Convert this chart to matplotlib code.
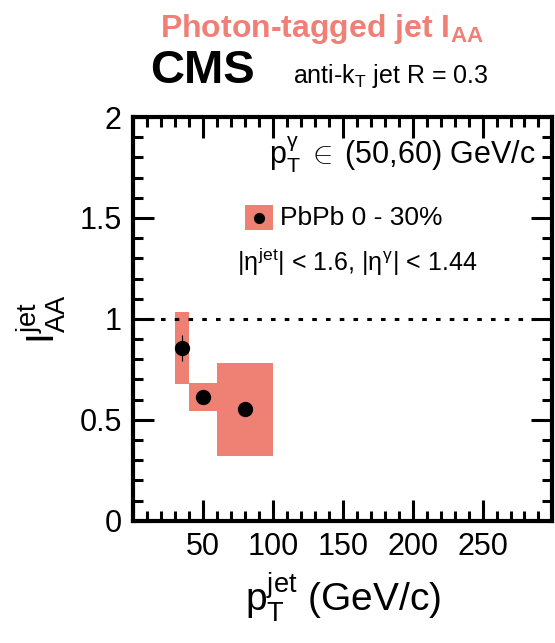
import matplotlib
matplotlib.use('Agg')
import matplotlib.pyplot as plt
from matplotlib.patches import Rectangle
from matplotlib.ticker import MultipleLocator, FixedLocator

plt.rcParams['font.family'] = ['Liberation Sans', 'DejaVu Sans']
plt.rcParams['mathtext.fontset'] = 'custom'
plt.rcParams['mathtext.rm'] = 'Liberation Sans'
plt.rcParams['mathtext.it'] = 'Liberation Sans'
plt.rcParams['mathtext.bf'] = 'Liberation Sans:bold'

# ---- data ----
bin_lo = [30, 40, 60]
bin_hi = [40, 60, 100]
x_pts = [35, 50, 80]
iaa = [0.856, 0.615, 0.553]
stat = [0.065, 0.02, 0.03]
sys_lo = [0.678, 0.545, 0.322]
sys_hi = [1.035, 0.683, 0.784]

x_ticks = [50, 100, 150, 200, 250]
y_ticks = [0, 0.5, 1, 1.5, 2]
y_tick_labels = ['0', '0.5', '1', '1.5', '2']

box_color = '#EE8074'
title_color = '#F08076'

fig = plt.figure(figsize=(5.55, 6.43), dpi=100)
ax = fig.add_axes([0.2396, 0.190, 0.7558, 0.628])

for lo, hi, slo, shi in zip(bin_lo, bin_hi, sys_lo, sys_hi):
    ax.add_patch(Rectangle((lo, slo), hi - lo, shi - slo, facecolor=box_color,
                           edgecolor='none', zorder=2))

ax.errorbar(x_pts, iaa, yerr=stat, fmt='o', color='black', markersize=10,
            elinewidth=0.8, capsize=0, zorder=4)

ax.axhline(1.0, color='black', linestyle=(0, (1.5, 3)), linewidth=2.2, zorder=3)

ax.set_xlim(0, 300)
ax.set_ylim(0, 2)

ax.xaxis.set_major_locator(FixedLocator([0] + x_ticks + [300]))
ax.set_xticklabels([''] + [str(t) for t in x_ticks] + [''])
ax.xaxis.set_minor_locator(MultipleLocator(10))
ax.yaxis.set_major_locator(FixedLocator(y_ticks))
ax.set_yticklabels(y_tick_labels)
ax.yaxis.set_minor_locator(MultipleLocator(0.1))

ax.tick_params(which='both', direction='in', top=True, right=True, width=2.2,
               labelsize=22, pad=8)
ax.tick_params(which='major', length=15)
ax.tick_params(which='minor', length=7)
for sp in ax.spines.values():
    sp.set_linewidth(3)

ax.set_xlabel(r'p$_\mathregular{T}^\mathregular{jet}$ (GeV/c)', fontsize=28, labelpad=6)
ax.set_ylabel(r'I$_\mathregular{AA}^\mathregular{jet}$', fontsize=28, labelpad=8)

# in-plot annotations
ax.text(0.96, 0.906, r'p$_\mathregular{T}^\gamma\;\in\;$(50,60) GeV/c', transform=ax.transAxes,
        ha='right', va='center', fontsize=22)
ax.add_patch(Rectangle((0.266, 0.720), 0.067, 0.062, transform=ax.transAxes,
                       facecolor=box_color, edgecolor='none', zorder=2))
ax.plot([0.30], [0.751], 'o', color='black', markersize=7, transform=ax.transAxes, zorder=3)
ax.text(0.35, 0.751, 'PbPb 0 - 30%', transform=ax.transAxes,
        ha='left', va='center', fontsize=19)
ax.text(0.247, 0.641, r'|$\eta^\mathregular{jet}$| < 1.6, |$\eta^\gamma$| < 1.44',
        transform=ax.transAxes, ha='left', va='center', fontsize=18)

fig.text(0.58, 0.955, r'Photon-tagged jet I$_\mathbf{AA}$', color=title_color,
         fontsize=23, fontweight='bold', ha='center', va='center')
fig.text(0.27, 0.89, 'CMS', fontsize=34, fontweight='bold', ha='left', va='center')
fig.text(0.528, 0.882, r'anti-k$_\mathregular{T}$ jet R = 0.3', fontsize=18,
         ha='left', va='center')

fig.savefig('out.png', dpi=100)
